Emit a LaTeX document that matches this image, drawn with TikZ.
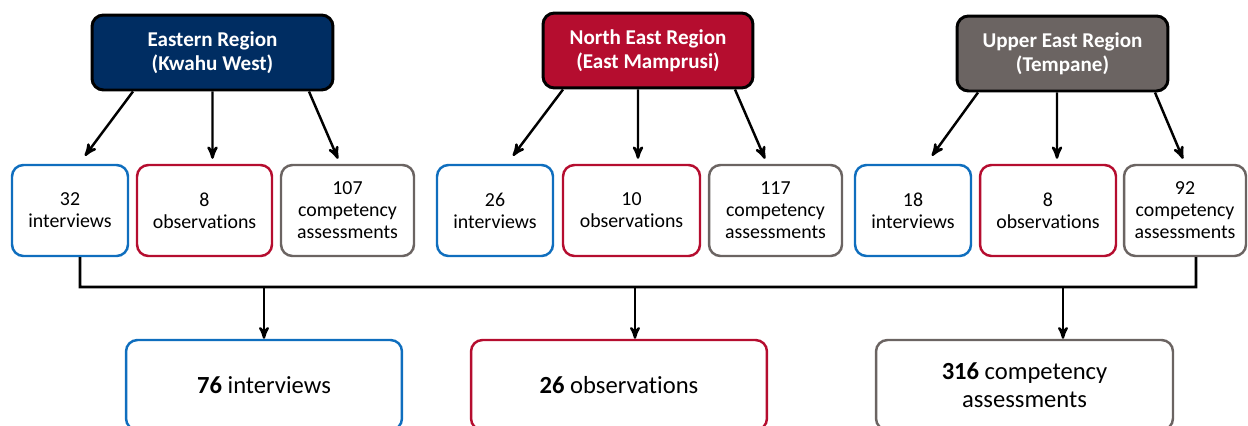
\documentclass[tikz,border=0pt]{standalone}
\usepackage{fontspec}
\setmainfont[Ligatures=NoCommon]{Carlito}
\usetikzlibrary{arrows,calc,positioning}

\definecolor{navy}{HTML}{002D62}
\definecolor{crimson}{HTML}{B50D2F}
\definecolor{taupe}{HTML}{6B6462}
\definecolor{sky}{HTML}{0F6EBE}

\begin{document}
\begin{tikzpicture}
[
                  x =  0.02cm,
                  y = -0.02cm,
                 >= stealth',
     region/.style = { draw=black, line width=1.7pt, rounded corners=6.5pt, text=white,
                       align=center, minimum height=1.5cm, inner sep=2pt,
                       font=\bfseries\fontsize{12}{13.6}\selectfont },
       item/.style = { line width=1.4pt, fill=white, rounded corners=6.5pt, align=center,
                       minimum height=1.82cm, inner sep=1pt,
                       font=\fontsize{11.3}{12.5}\selectfont },
      total/.style = { line width=1.4pt, fill=white, rounded corners=6.5pt, align=center,
                       minimum height=1.8cm, inner sep=2pt,
                       font=\fontsize{14}{15.9}\selectfont },
       link/.style = { ->, line width=1.4pt },
        bus/.style = { line width=1.6pt },
       drop/.style = { ->, line width=1.3pt }
]

    \useasboundingbox (0,0) rectangle (1248,426);
    \clip (0,0) rectangle (1248,426);

    % regions
    \node (Eastern)   at (212.5, 52.5) [region, fill=navy,    minimum width=4.82cm] {Eastern Region\\(Kwahu West)};
    \node (NorthEast) at (648, 50.5)   [region, fill=crimson, minimum width=4.2cm]  {North East Region\\(East Mamprusi)};
    \node (UpperEast) at (1062.5, 53.5)[region, fill=taupe,   minimum width=4.22cm] {Upper East Region\\(Tempane)};

    % data collected per region
    \node (EInt)  at (70, 210.5)     [item, draw=sky,     minimum width=2.32cm] {32\\interviews};
    \node (EObs)  at (204.5, 210.5)  [item, draw=crimson, minimum width=2.7cm]  {8\\observations};
    \node (EComp) at (347.5, 210.5)  [item, draw=taupe,   minimum width=2.66cm] {107\\competency\\assessments};

    \node (NInt)  at (495, 210.5)    [item, draw=sky,     minimum width=2.32cm] {26\\interviews};
    \node (NObs)  at (631.5, 210.5)  [item, draw=crimson, minimum width=2.74cm] {10\\observations};
    \node (NComp) at (775.5, 210.5)  [item, draw=taupe,   minimum width=2.66cm] {117\\competency\\assessments};

    \node (UInt)  at (913, 210.5)    [item, draw=sky,     minimum width=2.32cm] {18\\interviews};
    \node (UObs)  at (1048, 210.5)   [item, draw=crimson, minimum width=2.72cm] {8\\observations};
    \node (UComp) at (1185, 210.5)   [item, draw=taupe,   minimum width=2.44cm] {92\\competency\\assessments};

    % totals
    \node (TotInt)  at (264, 385)    [total, draw=sky,     minimum width=5.52cm] {\textbf{76} interviews};
    \node (TotObs)  at (619, 385)    [total, draw=crimson, minimum width=5.92cm] {\textbf{26} observations};
    \node (TotComp) at (1024.5, 385) [total, draw=taupe,   minimum width=5.94cm] {\textbf{316} competency\\assessments};

    \draw[link] ([xshift=-1.59cm]Eastern.south) -- ([xshift=0.3cm,yshift=0.16cm]EInt.north);
    \draw[link] (Eastern.south)                 -- ([xshift=0.16cm,yshift=0.1cm]EObs.north);
    \draw[link] ([xshift=1.93cm]Eastern.south)  -- ([xshift=-0.19cm,yshift=0.1cm]EComp.north);

    \draw[link] ([xshift=-1.7cm]NorthEast.south) -- ([xshift=0.36cm,yshift=0.16cm]NInt.north);
    \draw[link] ([xshift=-0.2cm]NorthEast.south) -- ([xshift=0.13cm,yshift=0.1cm]NObs.north);
    \draw[link] ([xshift=1.74cm]NorthEast.south) -- ([xshift=-0.21cm,yshift=0.1cm]NComp.north);

    \draw[link] ([xshift=-1.69cm]UpperEast.south) -- ([xshift=0.38cm,yshift=0.16cm]UInt.north);
    \draw[link] ([xshift=-0.11cm]UpperEast.south) -- ([xshift=0.18cm,yshift=0.1cm]UObs.north);
    \draw[link] ([xshift=1.85cm]UpperEast.south)  -- ([xshift=-0.04cm,yshift=0.1cm]UComp.north);

    % collecting line
    \coordinate (BusL)     at (80, 287);
    \coordinate (BusR)     at (1196, 287);
    \coordinate (DropInt)  at (264, 287);
    \coordinate (DropObs)  at (635, 287);
    \coordinate (DropComp) at (1063, 287);

    \draw[bus] ([xshift=0.2cm]EInt.south) -- (BusL) -- (BusR) -- ([xshift=0.22cm]UComp.south);

    \draw[drop] (DropInt)  -- (DropInt |- TotInt.north);
    \draw[drop] (DropObs)  -- (DropObs |- TotObs.north);
    \draw[drop] (DropComp) -- (DropComp |- TotComp.north);

\end{tikzpicture}
\end{document}
